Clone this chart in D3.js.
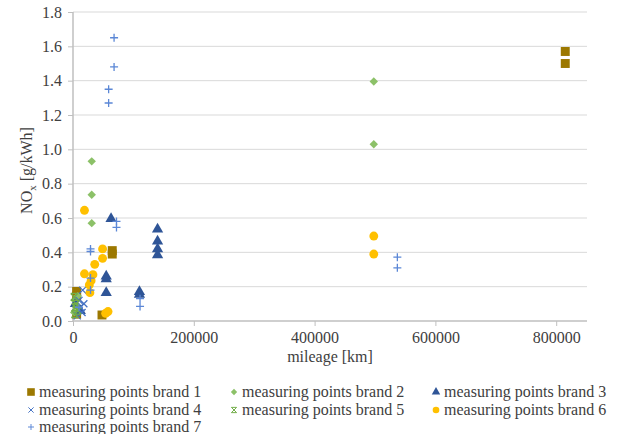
<!DOCTYPE html>
<html>
<head>
<meta charset="utf-8">
<script src="https://cdn.jsdelivr.net/npm/d3@7"></script>
<style>
  body { margin: 0; background: #fff; }
  svg text { font-family: "Liberation Serif", "Times New Roman", Times, "DejaVu Serif", serif; }
</style>
</head>
<body>
<svg width="621" height="434"></svg>
<script>
// [mileage km, NOx g/kWh]
const brand1 = [[815000, 1.57], [815000, 1.50], [6000, 0.172], [6000, 0.145], [6000, 0.04],
                [48000, 0.035], [65000, 0.41], [65000, 0.39]];
const brand2 = [[498000, 1.395], [498000, 1.03], [31000, 0.93], [31000, 0.735], [31000, 0.57],
                [3000, 0.12], [6000, 0.09], [2000, 0.05], [8000, 0.145]];
const brand3 = [[63000, 0.595], [140000, 0.535], [140000, 0.465], [140000, 0.42], [140000, 0.385],
                [55000, 0.26], [55000, 0.245], [55000, 0.165], [110000, 0.17], [110000, 0.155],
                [4000, 0.1], [12000, 0.06]];
const brand4 = [[16000, 0.18], [18000, 0.1], [12000, 0.08], [15000, 0.05], [10000, 0.12], [7000, 0.03]];
const brand5 = [[3000, 0.04], [5000, 0.1], [2000, 0.14], [8000, 0.06], [4000, 0.08]];
const brand6 = [[19000, 0.645], [49000, 0.42], [49000, 0.365], [36000, 0.33], [19000, 0.275],
                [33000, 0.27], [27000, 0.21], [28000, 0.165], [58000, 0.055], [54000, 0.045],
                [498000, 0.495], [498000, 0.39], [30000, 0.235]];
const brand7 = [[68000, 1.65], [68000, 1.48], [59000, 1.35], [59000, 1.27], [72000, 0.58],
                [72000, 0.545], [29000, 0.42], [29000, 0.405], [29000, 0.25], [29000, 0.18],
                [111000, 0.13], [111000, 0.085], [537000, 0.372], [537000, 0.31], [10000, 0.08]];

const xTicks = [0, 200000, 400000, 600000, 800000];
const yTicks = [0, 0.2, 0.4, 0.6, 0.8, 1.0, 1.2, 1.4, 1.6, 1.8];

const series = [
  {name: "measuring points brand 1", data: brand1, shape: "square",   color: "#9C7800"},
  {name: "measuring points brand 2", data: brand2, shape: "diamond",  color: "#8CC168"},
  {name: "measuring points brand 3", data: brand3, shape: "triangle", color: "#2F5597"},
  {name: "measuring points brand 4", data: brand4, shape: "x",        color: "#4472C4"},
  {name: "measuring points brand 5", data: brand5, shape: "xbar",     color: "#70AD47"},
  {name: "measuring points brand 6", data: brand6, shape: "circle",   color: "#FFC000"},
  {name: "measuring points brand 7", data: brand7, shape: "plus",     color: "#5B87D6"}
];

const svg = d3.select("svg"),
      margin = {top: 12, right: 34, bottom: 113, left: 73},
      width = +svg.attr("width") - margin.left - margin.right,
      height = +svg.attr("height") - margin.top - margin.bottom;

const chartArea = svg.append("g")
                     .attr("transform", `translate(${margin.left},${margin.top})`);

const x = d3.scaleLinear().domain([0, 851000]).range([0, width]);
const y = d3.scaleLinear().domain([0, 1.8]).range([height, 0]);

// gridlines
chartArea.append("g").selectAll("line")
  .data(yTicks.slice(1))
  .join("line")
  .attr("x1", 0).attr("x2", width)
  .attr("y1", d => y(d)).attr("y2", d => y(d))
  .attr("stroke", "#D9D9D9").attr("stroke-width", 1);

const xAxis = chartArea.append("g")
  .attr("transform", `translate(0,${height})`)
  .call(d3.axisBottom(x).tickValues(xTicks).tickFormat(d3.format("d")).tickSize(5).tickPadding(6));
const yAxis = chartArea.append("g")
  .call(d3.axisLeft(y).tickValues(yTicks).tickFormat(d3.format(".1f")).tickSize(5).tickPadding(6));

[xAxis, yAxis].forEach(a => {
  a.attr("font-family", null);
  a.select(".domain").attr("stroke", "#BFBFBF").attr("stroke-width", 1.5);
  a.selectAll(".tick line").attr("stroke", "#BFBFBF");
  a.selectAll("text").attr("font-size", 16).attr("fill", "#404040");
});
xAxis.select(".domain").attr("d", `M0,0H${width}`);
yAxis.select(".domain").attr("d", `M0,${height}V0`);

function symbolPath(shape) {
  switch (shape) {
    case "square":   return d3.symbol(d3.symbolSquare, 80)();
    case "diamond":  return d3.symbol(d3.symbolDiamond2, 45)();
    case "triangle": return d3.symbol(d3.symbolTriangle, 55)();
    case "circle":   return d3.symbol(d3.symbolCircle, 62)();
    case "x":        return "M-3.5,-3.5L3.5,3.5M-3.5,3.5L3.5,-3.5";
    case "xbar":     return "M-3.5,-3.5L3.5,3.5M-3.5,3.5L3.5,-3.5M-3.5,-3.5H3.5M-3.5,3.5H3.5";
    case "plus":     return "M-4,0H4M0,-4V4";
  }
}

function drawMark(sel, s) {
  const line = s.shape === "x" || s.shape === "xbar" || s.shape === "plus";
  sel.attr("d", symbolPath(s.shape))
     .attr("fill", line ? "none" : s.color)
     .attr("stroke", line ? s.color : "none")
     .attr("stroke-width", line ? 1.3 : 0);
}

series.forEach(s => {
  chartArea.append("g").selectAll("path")
    .data(s.data)
    .join("path")
    .attr("transform", d => `translate(${x(d[0])},${y(d[1])})`)
    .call(drawMark, s);
});

// axis titles
svg.append("text")
  .attr("x", margin.left + width / 2).attr("y", 362)
  .attr("text-anchor", "middle").attr("font-size", 16).attr("fill", "#404040")
  .text("mileage [km]");

const yTitle = svg.append("text")
  .attr("transform", `translate(32,${margin.top + height / 2 + 4}) rotate(-90)`)
  .attr("text-anchor", "middle").attr("font-size", 16).attr("fill", "#404040");
yTitle.append("tspan").text("NO");
yTitle.append("tspan").attr("font-size", 11).attr("dy", 4).text("x");
yTitle.append("tspan").attr("dy", -4).text(" [g/kWh]");

// legend
const legendCols = [31, 234, 436], legendRows = [392, 410, 427];
const legend = svg.append("g");
series.forEach((s, i) => {
  const lx = legendCols[i % 3], ly = legendRows[Math.floor(i / 3)];
  const g = legend.append("g").attr("transform", `translate(${lx},${ly})`);
  g.append("path").call(drawMark, s)
    .attr("transform", s.shape === "square" ? "scale(0.85)" : "scale(0.75)");
  g.append("text").attr("x", 8).attr("y", 5)
    .attr("font-size", 16).attr("fill", "#404040")
    .text(s.name);
});
</script>
</body>
</html>
